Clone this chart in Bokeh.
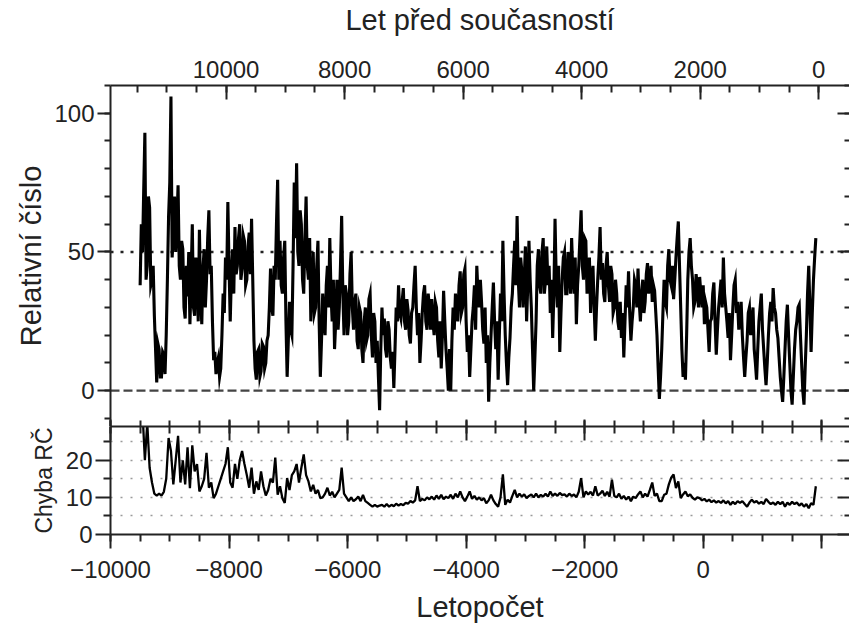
from bokeh.plotting import figure
from bokeh.models import Range1d, LinearAxis, FixedTicker, Span, Grid
from bokeh.layouts import column
from bokeh.embed import file_html
from bokeh.resources import INLINE

# ---------------- data ----------------
present_year = 1950  # "present" for the years-before-present axis

# Relativní číslo (reconstructed sunspot number), 20-year samples from -9500, one row = 400 years
rn_start, rn_step = -9500, 20
relative_number = [
    38, 60, 50, 72, 93, 40, 45, 70, 66, 38, 40, 45, 27, 15, 3, 17, 15, 5, 5, 14,             # -9500
    13, 6, 20, 40, 63, 75, 106, 48, 57, 70, 50, 60, 74, 45, 40, 54, 51, 30, 26, 45,          # -9100
    34, 50, 24, 40, 60, 30, 27, 48, 42, 25, 58, 35, 24, 44, 51, 30, 40, 55, 65, 42,          # -8700
    45, 25, 11, 14, 6, 10, 12, 5, 8, 20, 35, 28, 48, 40, 68, 45, 25, 42, 51, 35,             # -8300
    59, 42, 45, 55, 60, 40, 44, 56, 54, 38, 40, 52, 57, 42, 62, 40, 18, 8, 4, 14,            # -7900
    15, 5, 7, 17, 16, 8, 10, 18, 20, 30, 44, 30, 27, 45, 40, 60, 76, 40, 54, 38,             # -7500
    35, 48, 54, 25, 5, 18, 32, 22, 20, 45, 75, 55, 82, 50, 45, 65, 60, 40, 35, 55,           # -7100
    70, 45, 40, 55, 25, 35, 50, 28, 30, 45, 54, 25, 5, 18, 35, 25, 20, 38, 45, 30,           # -6700
    55, 35, 25, 40, 15, 25, 40, 22, 30, 45, 63, 35, 20, 38, 35, 20, 25, 42, 50, 30,          # -6300
    22, 32, 35, 18, 15, 30, 28, 15, 10, 25, 30, 18, 20, 33, 35, 20, 12, 28, 25, 10,          # -5900
    18, 5, -7, 15, 30, 20, 26, 15, 12, 25, 22, 12, 8, 14, 1, 15, 30, 25, 38, 28,             # -5500
    26, 32, 37, 25, 22, 33, 29, 20, 17, 28, 30, 38, 45, 30, 20, 28, 10, 18, 28, 35,          # -5100
    38, 25, 22, 35, 30, 22, 33, 25, 20, 32, 30, 18, 12, 25, 8, 20, 36, 25, 15, 8,            # -4700
    0, 15, 0, 18, 30, 22, 35, 28, 25, 38, 43, 28, 30, 42, 44, 25, 14, 20, 5, 15,             # -4300
    25, 30, 38, 22, 45, 35, 30, 40, 32, 22, 17, 30, 10, 20, -4, 10, 20, 30, 39, 25,          # -3900
    15, 25, 4, 20, 35, 25, 54, 35, 20, 10, 2, 12, 19, 30, 35, 45, 54, 38, 63, 40,            # -3500
    30, 48, 43, 30, 40, 52, 25, 38, 54, 40, 30, 15, 0, 12, 25, 45, 51, 38, 35, 50,           # -3100
    55, 35, 40, 52, 38, 45, 28, 40, 19, 35, 62, 40, 30, 45, 14, 28, 40, 48, 50, 35,          # -2700
    35, 50, 45, 35, 55, 42, 35, 48, 24, 38, 45, 55, 65, 45, 40, 55, 54, 35, 38, 48,          # -2300
    28, 40, 45, 30, 18, 30, 40, 48, 59, 40, 46, 35, 32, 45, 50, 38, 32, 45, 42, 28,          # -1900
    30, 40, 35, 25, 22, 32, 19, 28, 12, 25, 38, 30, 43, 28, 18, 25, 30, 40, 38, 30,          # -1500
    44, 32, 25, 35, 40, 28, 32, 42, 46, 35, 38, 45, 32, 38, 36, 28, 20, 8, -3, 5,            # -1100
    15, 28, 40, 32, 30, 45, 51, 40, 38, 45, 33, 40, 48, 55, 61, 45, 30, 15, 5, 10,           # -700
    4, 20, 40, 50, 55, 45, 40, 30, 32, 42, 38, 30, 41, 35, 30, 38, 24, 32, 30, 22,           # -300
    14, 25, 26, 35, 39, 25, 13, 22, 30, 35, 40, 30, 48, 35, 30, 25, 19, 28, 11, 20,          # 100
    30, 38, 40, 28, 32, 22, 26, 32, 20, 12, 5, 12, 18, 28, 30, 20, 25, 30, 15, 10,           # 500
    4, 15, 25, 30, 35, 22, 15, 8, 2, 10, 20, 28, 32, 25, 37, 30, 28, 22, 19, 12,             # 900
    5, 0, -4, 5, 15, 25, 31, 20, 10, 0, -5, 5, 15, 22, 25, 30, 31, 20, 10, 0,                # 1300
    -5, 8, 20, 35, 45, 30, 14, 28, 40, 48, 55,                                               # 1700
]

# Chyba RČ (error of the relative number), 40-year samples from -9500, one row = 400 years
err_start, err_step = -9500, 40
rn_error = [
    30, 33, 20, 30, 18, 14, 11, 10.5, 11, 10.5,                 # -9500
    11.5, 15, 26, 22.5, 13.5, 20, 26.6, 14, 20, 13.5,           # -9100
    23.5, 12.5, 24, 17, 19, 11.6, 13, 15, 22, 12.6,             # -8700
    14, 9.8, 11, 13, 15, 17, 19, 23.5, 14, 12.6,                # -8300
    19, 15, 20, 22.5, 19, 16, 12.6, 18, 11, 14.3,               # -7900
    12, 17, 13, 10.5, 12, 15, 14, 20.7, 10.7, 13,               # -7500
    9.8, 8.5, 15.2, 12, 16, 17, 19, 14, 18, 21.6,               # -7100
    16, 14.3, 11.6, 13.4, 11, 12, 9.8, 10, 11, 12.6,            # -6700
    10.5, 11.5, 10, 11, 12, 18, 11, 10, 9, 10,                  # -6300
    9, 9.5, 10.2, 9, 10.7, 9, 8.5, 8, 7.5, 8,                   # -5900
    7.5, 7.8, 8, 7.5, 8.2, 7.5, 8, 7.6, 8.3, 7.8,               # -5500
    8.2, 7.9, 8.5, 8.3, 9, 8.6, 9.2, 13, 9, 9.6,                # -5100
    9.2, 10, 9.5, 10.2, 9.4, 10.5, 9.6, 10.7, 9.5, 10.2,        # -4700
    9.8, 10.7, 9.6, 11, 10, 11.6, 10, 9, 10.2, 11.6,            # -4300
    9.6, 10.4, 9.4, 10, 9.2, 9.8, 8.4, 9.2, 10.7, 9.2,          # -3900
    8.2, 7.5, 10, 16.2, 8, 9.4, 8.6, 10.4, 12, 10,              # -3500
    11, 10.2, 10.8, 9.8, 10.4, 10.8, 10, 11, 10, 10.7,          # -3100
    10.2, 11, 10.2, 11.6, 10.4, 11, 10.4, 11.2, 10.6, 10.8,     # -2700
    10.2, 11, 10.4, 10.8, 10, 11.5, 15.2, 10, 11.6, 10.8,       # -2300
    11.5, 10.5, 13, 10.5, 11, 11.8, 10.4, 11.5, 10.2, 14.8,     # -1900
    10.4, 10, 11, 9.6, 10.4, 9.4, 10.2, 9, 10.2, 9.8,           # -1500
    10.8, 11.6, 10, 11, 10.2, 12, 14, 10.4, 11, 9,              # -1100
    9, 10.7, 11, 13.5, 15.3, 16.2, 12.5, 14.3, 9.8, 10.8,       # -700
    11.6, 10.3, 10.8, 9.9, 9.4, 10, 9.8, 9.2, 9.6, 8.9,         # -300
    9.4, 8.7, 9.2, 8.6, 9, 8.5, 9.2, 8.4, 9, 8,                 # 100
    8.8, 8.2, 9, 8.5, 9, 8.2, 7.5, 8.6, 9.4, 8.6,               # 500
    9, 8.3, 8.8, 8.2, 9.6, 8.8, 8.2, 8.6, 8, 8.8,               # 900
    8.2, 8.8, 7.5, 8.6, 8, 8.8, 8.2, 8.6, 7.8, 8.4,             # 1300
    7.5, 8.2, 7.1, 8.4, 8, 13,                                  # 1700
]

rn_years = [rn_start + rn_step * i for i in range(len(relative_number))]
err_years = [err_start + err_step * i for i in range(len(rn_error))]

# axes / ticks
ad_major = [-10000, -8000, -6000, -4000, -2000, 0, 2000]
ad_minor = list(range(-10000, 2001, 500))
ad_labels = {-10000: "\u221210000", -8000: "\u22128000", -6000: "\u22126000",
             -4000: "\u22124000", -2000: "\u22122000", 0: "0", 2000: ""}
bp_major = [0, 2000, 4000, 6000, 8000, 10000]
bp_minor = list(range(0, 11501, 500))
rn_major = [0, 50, 100]
rn_minor = list(range(-10, 111, 10))
err_major = [0, 10, 20]
err_minor = [5, 15, 25]
err_grid = [5, 10, 15, 20, 25]
rn_dotted_level = 50
rn_dashed_level = 0

x_start, x_end = -10000, 2468
rn_range = (-12.9, 110)
err_range = (0, 29.1)

# ---------------- style ----------------
FONT = "Liberation Sans"
TICK_SIZE = "24px"
LABEL_SIZE = "29px"
INK = "#222222"
W = 849


def style_axis(ax, labels=True, ticks=()):
    ax.axis_line_color = INK
    ax.axis_line_width = 2
    ax.major_tick_line_color = INK
    ax.minor_tick_line_color = INK
    ax.major_tick_line_width = 2
    ax.minor_tick_line_width = 2
    ax.major_label_text_font = FONT
    ax.major_label_text_color = INK
    ax.axis_label_text_font = FONT
    ax.axis_label_text_font_size = LABEL_SIZE
    ax.axis_label_text_font_style = "normal"
    ax.axis_label_text_color = INK
    if labels:
        ax.major_label_text_font_size = TICK_SIZE
    else:
        ax.major_label_overrides = {t: "" for t in ticks}
        ax.major_label_text_font_size = "0px"
        ax.major_label_standoff = 0


x_range = Range1d(x_start, x_end)

# ---------------- upper panel ----------------
p1 = figure(width=W, height=426, x_range=x_range, y_range=Range1d(*rn_range),
            output_backend="svg", toolbar_location=None,
            x_axis_location=None, y_axis_location=None,
            min_border_left=110, min_border_right=0, min_border_top=83, min_border_bottom=0,
            outline_line_color=None, background_fill_color="white", border_fill_color="white")
p1.grid.visible = False
p1.extra_x_ranges = {"bp": Range1d(present_year - x_start, present_year - x_end)}

top = LinearAxis(x_range_name="bp", ticker=FixedTicker(ticks=bp_major, minor_ticks=bp_minor),
                 axis_label="Let před současností")
style_axis(top)
top.major_tick_in, top.major_tick_out = 14, 0
top.minor_tick_in, top.minor_tick_out = 7, 0
top.major_label_standoff = 8
top.axis_label_standoff = 22
p1.add_layout(top, "above")

b1 = LinearAxis(ticker=FixedTicker(ticks=ad_major, minor_ticks=ad_minor))
style_axis(b1, labels=False, ticks=ad_major)
b1.major_tick_in, b1.major_tick_out = 7, 0
b1.minor_tick_in, b1.minor_tick_out = 6, 0
p1.add_layout(b1, "below")

l1 = LinearAxis(ticker=FixedTicker(ticks=rn_major, minor_ticks=rn_minor), axis_label="Relativní číslo")
style_axis(l1)
l1.major_tick_in, l1.major_tick_out = 0, 13
l1.minor_tick_in, l1.minor_tick_out = 0, 6
l1.major_label_standoff = 3
l1.axis_label_standoff = 4
p1.add_layout(l1, "left")

r1 = LinearAxis(ticker=FixedTicker(ticks=rn_major, minor_ticks=rn_minor))
style_axis(r1, labels=False, ticks=rn_major)
r1.axis_line_color = None
r1.major_tick_in, r1.major_tick_out = 12, 0
r1.minor_tick_in, r1.minor_tick_out = 5, 0
p1.add_layout(r1, "right")

p1.add_layout(Span(location=rn_dotted_level, dimension="width", line_color=INK,
                   line_width=2.5, line_dash="3 7", level="underlay"))
p1.add_layout(Span(location=rn_dashed_level, dimension="width", line_color="#444444",
                   line_width=2.2, line_dash="9 4", level="underlay"))
p1.line(rn_years, relative_number, line_color="black", line_width=3.1, line_join="miter")

# ---------------- lower panel ----------------
p2 = figure(width=W, height=199, x_range=x_range, y_range=Range1d(*err_range),
            output_backend="svg", toolbar_location=None,
            x_axis_location=None, y_axis_location=None,
            min_border_left=110, min_border_right=0, min_border_top=0, min_border_bottom=0,
            outline_line_color=None, background_fill_color="white", border_fill_color="white")
p2.grid.visible = False
p2.add_layout(Grid(dimension=1, ticker=FixedTicker(ticks=err_grid), grid_line_color="#9a9a9a",
                   grid_line_width=1.6, grid_line_dash="2 8"))

t2 = LinearAxis(ticker=FixedTicker(ticks=ad_major, minor_ticks=ad_minor))
style_axis(t2, labels=False, ticks=ad_major)
t2.major_tick_in, t2.major_tick_out = 14, 0
t2.minor_tick_in, t2.minor_tick_out = 7, 0
p2.add_layout(t2, "above")

b2 = LinearAxis(ticker=FixedTicker(ticks=ad_major, minor_ticks=ad_minor), axis_label="Letopočet")
style_axis(b2)
b2.major_label_overrides = ad_labels
b2.major_tick_in, b2.major_tick_out = 0, 14
b2.minor_tick_in, b2.minor_tick_out = 0, 7
b2.major_label_standoff = 12
b2.axis_label_standoff = 10
p2.add_layout(b2, "below")

l2 = LinearAxis(ticker=FixedTicker(ticks=err_major, minor_ticks=err_minor), axis_label="Chyba RČ")
style_axis(l2)
l2.axis_label_text_font_size = "23px"
l2.major_tick_in, l2.major_tick_out = 0, 15
l2.minor_tick_in, l2.minor_tick_out = 0, 7
l2.major_label_standoff = 3
l2.axis_label_standoff = 6
p2.add_layout(l2, "left")

r2 = LinearAxis(ticker=FixedTicker(ticks=err_major, minor_ticks=err_minor))
style_axis(r2, labels=False, ticks=err_major)
r2.axis_line_color = None
r2.major_tick_in, r2.major_tick_out = 12, 0
r2.minor_tick_in, r2.minor_tick_out = 5, 0
p2.add_layout(r2, "right")

p2.line(err_years, rn_error, line_color="black", line_width=2.3)

layout = column(p1, p2)
open("out.html", "w").write(file_html(layout, INLINE))
